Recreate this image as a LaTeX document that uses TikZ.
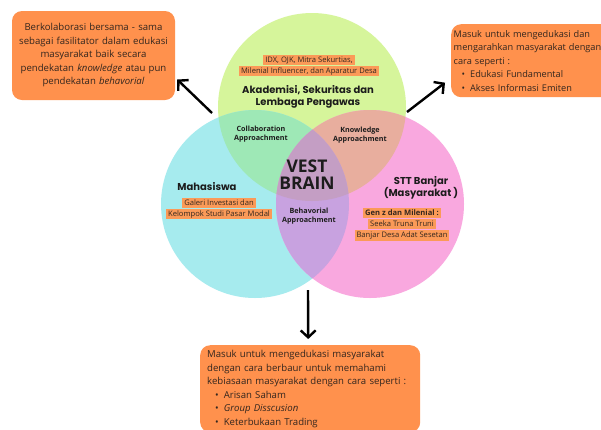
\documentclass[tikz,border=0pt]{standalone}
\usepackage{fontspec}
\setmainfont{Open Sans}
\newfontfamily\headfont{Poppins}
\usetikzlibrary{arrows.meta,positioning}

\definecolor{acadgreen}{HTML}{D6F59B}
\definecolor{mhscyan}{HTML}{A6EBEE}
\definecolor{sttpink}{HTML}{F9A8DF}
\definecolor{mint}{HTML}{9EE8B6}
\definecolor{salmon}{HTML}{E8AE9E}
\definecolor{lilac}{HTML}{C8A2E0}
\definecolor{mauve}{HTML}{C49EC4}
\definecolor{boxorange}{HTML}{FF914D}
\definecolor{hlorange}{HTML}{FB9A58}
\definecolor{inkbrown}{HTML}{33261E}
\definecolor{inkdark}{HTML}{1C1C1C}

\begin{document}
\begin{tikzpicture}[
  x=1pt, y=-1pt,
  node distance=0pt,
  box/.style={
    rectangle,
    rounded corners=10pt,
    fill=boxorange,
    text=inkbrown,
    font=\fontsize{9.6}{13.5}\selectfont
  },
  hl/.style={
    fill=hlorange,
    text=inkbrown,
    inner xsep=2pt,
    inner ysep=0pt,
    text height=7.8pt,
    text depth=2.9pt,
    font=\fontsize{7.6}{8}\selectfont
  },
  group/.style={font=\headfont\bfseries\fontsize{10}{12}\selectfont, align=center, text=inkdark},
  approach/.style={font=\bfseries\fontsize{7.2}{9.5}\selectfont, align=center, text=inkdark},
  flow/.style={-{Straight Barb[length=7pt,width=15pt]}, line width=2.4pt}
]
\useasboundingbox (0,0) rectangle (601,429);
\fill[white] (0,0) rectangle (601,429);

\coordinate (acad) at (312,107);
\coordinate (mhs) at (255,204);
\coordinate (stt) at (370,204);

\fill[acadgreen] (acad) circle (94);
\fill[mhscyan] (mhs) circle (94);
\fill[sttpink] (stt) circle (94);
\begin{scope}
  \clip (acad) circle (94);
  \fill[mint] (mhs) circle (94);
  \fill[salmon] (stt) circle (94);
\end{scope}
\begin{scope}
  \clip (mhs) circle (94);
  \fill[lilac] (stt) circle (94);
  \clip (acad) circle (94);
  \fill[mauve] (stt) circle (94);
\end{scope}

\node[hl] (idx) at (309,60) {IDX, OJK, Mitra Sekurtias,};
\node[hl, below=of idx] (influencer) {Milenial Influencer, dan Aparatur Desa};
\node[group] (akad) at (308,97) {Akademisi, Sekuritas dan\\Lembaga Pengawas};

\node[approach] (collab) at (261,134) {Collaboration\\Approachment};
\node[approach] (know) at (360,135) {Knowledge\\Approachment};
\node[approach] (behav) at (309,216) {Behavorial\\Approachment};

\node[font=\bfseries\fontsize{17.5}{17}\selectfont, align=center, text=inkdark] (vest) at (307,175) {VEST\\BRAIN};

\node[group] (mhslabel) at (207,187) {Mahasiswa};
\node[hl] (galeri) at (219,203) {Galeri Investasi dan};
\node[hl, below=of galeri] (kelompok) {Kelompok Studi Pasar Modal};

\node[group] (sttlabel) at (421,188) {STT Banjar\\(Masyarakat )};
\node[hl] (genz) at (402,213) {\bfseries Gen z dan Milenial :};
\node[hl, below=of genz] (seeka) {Seeka Truna Truni};
\node[hl, below=of seeka] (banjar) {Banjar Desa Adat Sesetan};

\node[box, minimum width=163pt, minimum height=89pt, text width=157pt, inner xsep=3pt, align=center] (collabbox) at (93.5,55.5)
  {Berkolaborasi bersama - sama\\sebagai fasilitator dalam edukasi\\masyarakat baik secara\\pendekatan \textit{knowledge} atau pun\\pendekatan \textit{behavorial}};
\node[box, anchor=north west, minimum width=175pt, minimum height=73pt, text width=170pt, inner xsep=1.5pt, align=left,
      font=\fontsize{9.2}{13.5}\selectfont] (knowbox) at (451,24)
  {Masuk untuk mengedukasi dan\\mengarahkan masyarakat dengan\\cara seperti :\\
   \hspace*{8pt}\textbullet\hspace{5pt}Edukasi Fundamental\\
   \hspace*{8pt}\textbullet\hspace{5pt}Akses Informasi Emiten};
\node[box, anchor=north west, minimum width=220pt, text width=206pt, inner xsep=7pt, inner ysep=5pt, align=left] (behavbox) at (200,345)
  {Masuk untuk mengedukasi masyarakat\\dengan cara berbaur untuk memahami\\kebiasaan masyarakat dengan cara seperti :\\
   \hspace*{8pt}\textbullet\hspace{5pt}Arisan Saham\\
   \hspace*{8pt}\textbullet\hspace{5pt}\textit{Group Disscusion}\\
   \hspace*{8pt}\textbullet\hspace{5pt}Keterbukaan Trading};

\coordinate (collabtail) at (212,113);
\coordinate (knowtail) at (407,112);
\coordinate (behavtail) at (308,290);

\draw[flow] (collabtail) -- ([shift={(2,24)}]collabbox.east);
\draw[flow] (knowtail) -- ([shift={(-6,22)}]knowbox.west);
\draw[flow] (behavtail) -- ([shift={(-2,-6)}]behavbox.north);

\end{tikzpicture}
\end{document}
